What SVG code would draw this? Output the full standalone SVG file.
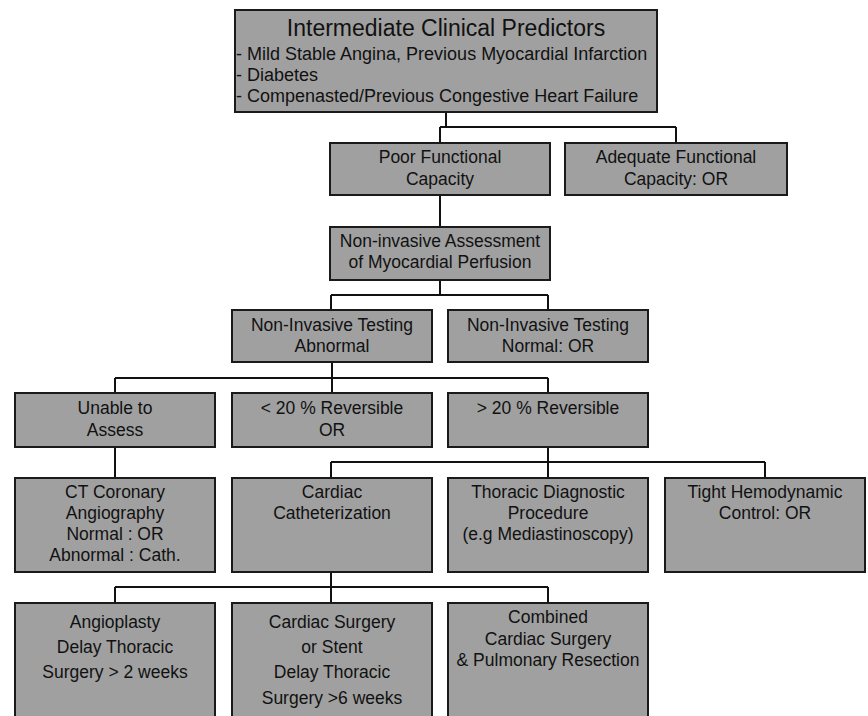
<svg xmlns="http://www.w3.org/2000/svg" width="868" height="716" viewBox="0 0 868 716">
<style>
.bg{fill:#ffffff}
.box{fill:#a0a0a0;stroke:#1a1a1a;stroke-width:2}
.lnk{fill:none;stroke:#111111;stroke-width:2}
text{font-family:"Liberation Sans",Arial,sans-serif;font-size:17.5px;fill:#111111;text-anchor:middle}
.title{font-size:23px}
.lft{text-anchor:start;font-size:18px}
</style>
<rect class="bg" x="0" y="0" width="868" height="716"/>
<g id="connectors">
<path class="lnk" d="M446,112 V127 M440,127 H676 M440,127 V143 M676,127 V143"/>
<path class="lnk" d="M440,195 V227"/>
<path class="lnk" d="M440,280 V295 M331,295 H548 M331,295 V310 M548,295 V310"/>
<path class="lnk" d="M332,362 V378 M115,378 H548 M115,378 V393 M332,378 V393 M548,378 V393"/>
<path class="lnk" d="M115,447 V478"/>
<path class="lnk" d="M548,447 V462 M331,462 H765 M331,462 V478 M548,462 V478 M765,462 V478"/>
<path class="lnk" d="M331,572 V587 M115,587 H548 M115,587 V603 M331,587 V603 M548,587 V603"/>
</g>
<g id="n-predictors">
<rect class="box" x="235" y="10" width="422" height="102"/>
<text class="title" x="446" y="36">Intermediate Clinical Predictors</text>
<text class="lft" x="236" y="60">- Mild Stable Angina, Previous Myocardial Infarction</text>
<text class="lft" x="236" y="81">- Diabetes</text>
<text class="lft" x="236" y="102">- Compenasted/Previous Congestive Heart Failure</text>
</g>
<g id="n-poor">
<rect class="box" x="330" y="143" width="220" height="52"/>
<text x="440" y="163">Poor Functional</text>
<text x="440" y="185">Capacity</text>
</g>
<g id="n-adequate">
<rect class="box" x="565" y="143" width="222" height="52"/>
<text x="676" y="163">Adequate Functional</text>
<text x="676" y="185">Capacity: OR</text>
</g>
<g id="n-assessment">
<rect class="box" x="330" y="227" width="220" height="53"/>
<text x="440" y="247">Non-invasive Assessment</text>
<text x="440" y="268">of Myocardial Perfusion</text>
</g>
<g id="n-abnormal">
<rect class="box" x="232" y="310" width="200" height="52"/>
<text x="332" y="331">Non-Invasive Testing</text>
<text x="332" y="352">Abnormal</text>
</g>
<g id="n-normal">
<rect class="box" x="448" y="310" width="200" height="52"/>
<text x="548" y="331">Non-Invasive Testing</text>
<text x="548" y="352">Normal: OR</text>
</g>
<g id="n-unable">
<rect class="box" x="15" y="393" width="200" height="54"/>
<text x="115" y="414">Unable to</text>
<text x="115" y="436">Assess</text>
</g>
<g id="n-lt20">
<rect class="box" x="232" y="393" width="200" height="54"/>
<text x="332" y="414">&lt; 20 % Reversible</text>
<text x="332" y="436">OR</text>
</g>
<g id="n-gt20">
<rect class="box" x="448" y="393" width="200" height="54"/>
<text x="548" y="414">&gt; 20 % Reversible</text>
</g>
<g id="n-ct">
<rect class="box" x="15" y="478" width="200" height="94"/>
<text x="115" y="498">CT Coronary</text>
<text x="115" y="519">Angiography</text>
<text x="115" y="540">Normal : OR</text>
<text x="115" y="561">Abnormal : Cath.</text>
</g>
<g id="n-cath">
<rect class="box" x="232" y="478" width="200" height="94"/>
<text x="332" y="498">Cardiac</text>
<text x="332" y="519">Catheterization</text>
</g>
<g id="n-thoracic">
<rect class="box" x="448" y="478" width="200" height="94"/>
<text x="548" y="498">Thoracic Diagnostic</text>
<text x="548" y="519">Procedure</text>
<text x="548" y="540">(e.g Mediastinoscopy)</text>
</g>
<g id="n-tight">
<rect class="box" x="665" y="478" width="200" height="94"/>
<text x="765" y="498">Tight Hemodynamic</text>
<text x="765" y="519">Control: OR</text>
</g>
<g id="n-angioplasty">
<rect class="box" x="15" y="603" width="200" height="130"/>
<text x="115" y="628">Angioplasty</text>
<text x="115" y="653">Delay Thoracic</text>
<text x="115" y="678">Surgery &gt; 2 weeks</text>
</g>
<g id="n-surgery">
<rect class="box" x="232" y="603" width="200" height="130"/>
<text x="332" y="628">Cardiac Surgery</text>
<text x="332" y="653">or Stent</text>
<text x="332" y="678">Delay Thoracic</text>
<text x="332" y="704">Surgery &gt;6 weeks</text>
</g>
<g id="n-combined">
<rect class="box" x="448" y="603" width="200" height="130"/>
<text x="548" y="623">Combined</text>
<text x="548" y="645">Cardiac Surgery</text>
<text x="548" y="666">&amp; Pulmonary Resection</text>
</g>
</svg>
